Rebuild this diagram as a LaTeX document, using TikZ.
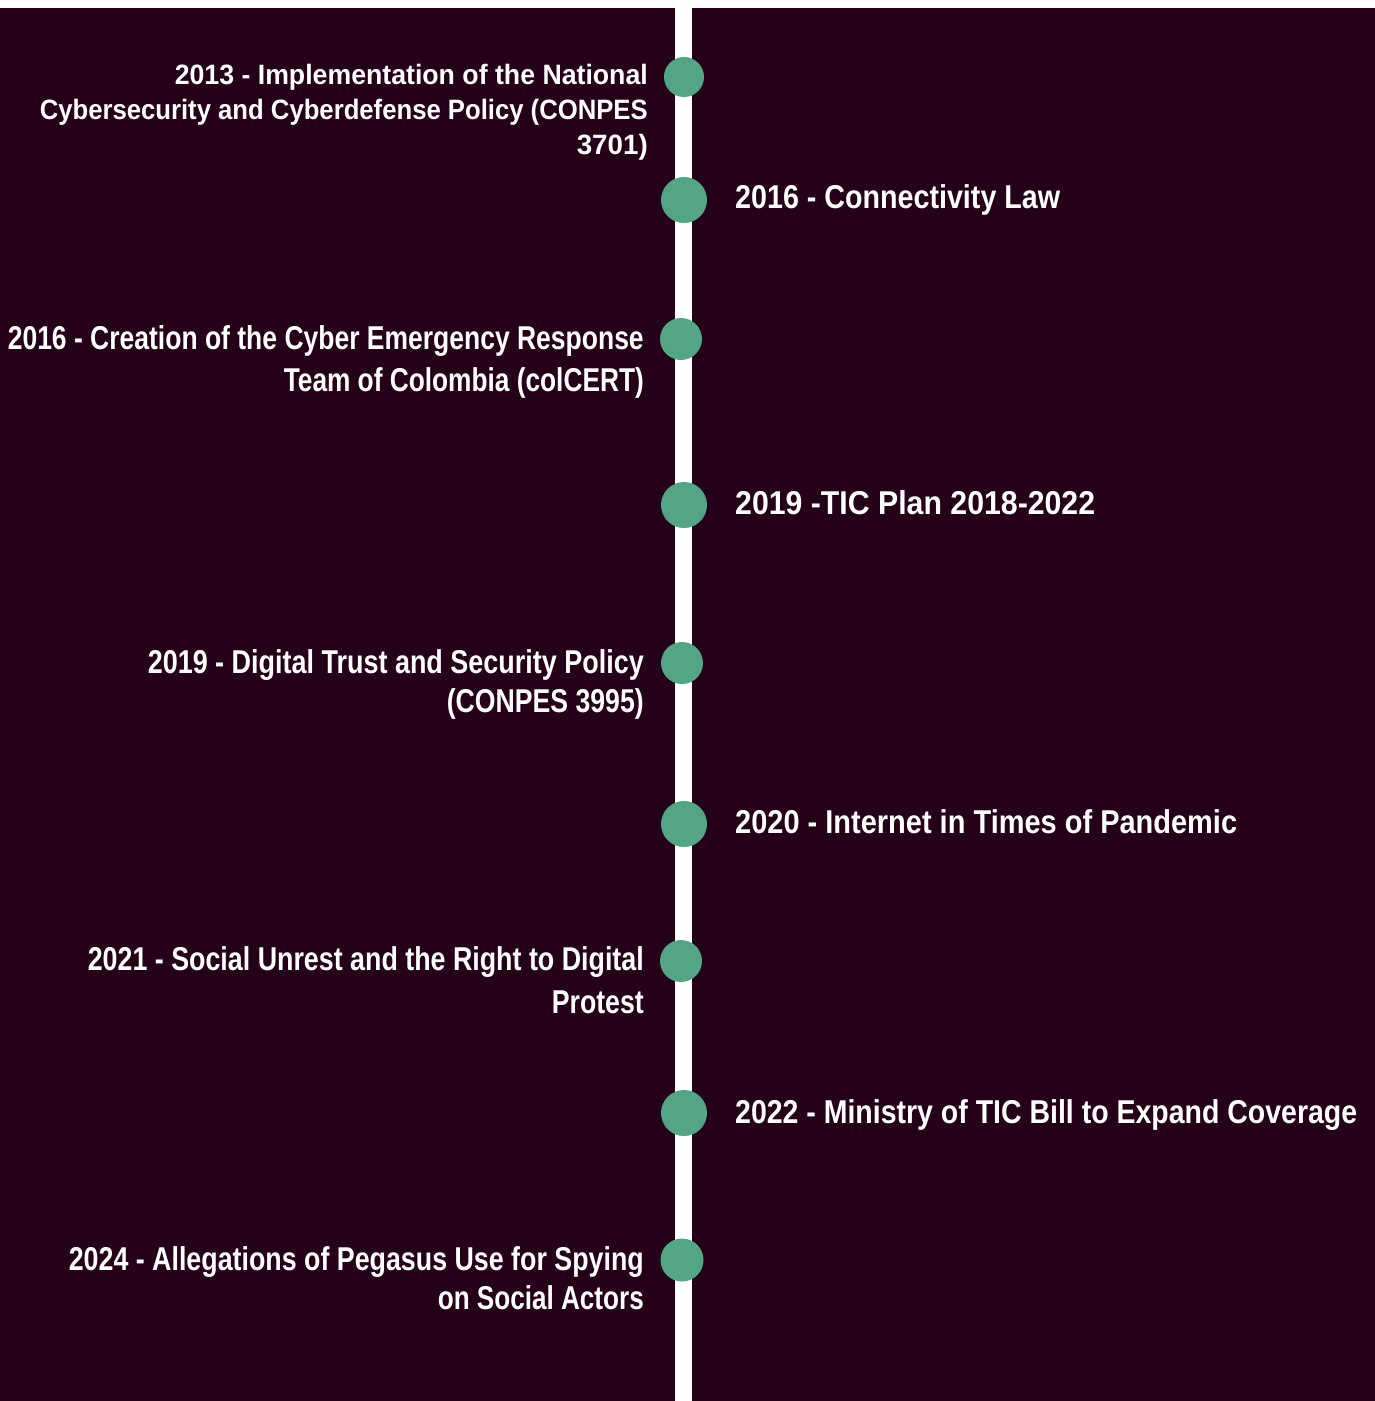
\documentclass[tikz,border=0pt]{standalone}
\usepackage{fontspec}
\usepackage{graphicx}
\setmainfont{Liberation Sans}
\definecolor{bgdark}{HTML}{240019}
\definecolor{dotgreen}{HTML}{53A685}
\newsavebox{\fitbox}
\newcommand{\fitw}[2]{\sbox{\fitbox}{#2}\pgfmathsetmacro{\fitr}{#1/\wd\fitbox}\scalebox{\fitr}[1]{\usebox{\fitbox}}}
\begin{document}
\begin{tikzpicture}[x=1pt,y=-1pt,
  dot/.style={circle,fill=dotgreen,draw=none,inner sep=0pt,minimum size=#1},
  lt/.style={anchor=base east,inner sep=0pt,text=white,font=\fontsize{33}{38}\selectfont\bfseries},
  ls/.style={anchor=base east,inner sep=0pt,text=white,font=\fontsize{28}{33}\selectfont\bfseries},
  rt/.style={anchor=base west,inner sep=0pt,text=white,font=\fontsize{33}{38}\selectfont\bfseries}]
\useasboundingbox (0,0) rectangle (1375,1401);
\fill[white] (0,0) rectangle (1375,1401);
\fill[bgdark] (0,8) rectangle (675,1401);
\fill[bgdark] (692,8) rectangle (1375,1401);
% dots
\node[dot=40pt] (d1) at (684,77) {};
\node[dot=46pt] (d2) at (684,200) {};
\node[dot=42pt] (d3) at (681,339) {};
\node[dot=46pt] (d4) at (684,505) {};
\node[dot=42pt] (d5) at (682,663) {};
\node[dot=46pt] (d6) at (684,824) {};
\node[dot=42pt] (d7) at (681,961) {};
\node[dot=46pt] (d8) at (684,1113) {};
\node[dot=43pt] (d9) at (682,1260) {};
% left texts
\node[ls] (t1a) at (648,84) {\fitw{473}{2013 - Implementation of the National}};
\node[ls] (t1b) at (648,119) {\fitw{608}{Cybersecurity and Cyberdefense Policy (CONPES}};
\node[ls] (t1c) at (648,154) {\fitw{71}{3701)}};
\node[lt] (t3a) at (644,349) {\fitw{636}{2016 - Creation of the Cyber Emergency Response}};
\node[lt] (t3b) at (644,391) {\fitw{360}{Team of Colombia (colCERT)}};
\node[lt] (t5a) at (644,673) {\fitw{496}{2019 - Digital Trust and Security Policy}};
\node[lt] (t5b) at (644,712) {\fitw{197}{(CONPES 3995)}};
\node[lt] (t7a) at (644,970) {\fitw{556}{2021 - Social Unrest and the Right to Digital}};
\node[lt] (t7b) at (644,1013) {\fitw{92}{Protest}};
\node[lt] (t9a) at (644,1270) {\fitw{575}{2024 - Allegations of Pegasus Use for Spying}};
\node[lt] (t9b) at (644,1309) {\fitw{206}{on Social Actors}};
% right texts
\node[rt] (t2) at (735,208) {\fitw{325}{2016 - Connectivity Law}};
\node[rt] (t4) at (735,514) {\fitw{360}{2019 -TIC Plan 2018-2022}};
\node[rt] (t6) at (735,833) {\fitw{502}{2020 - Internet in Times of Pandemic}};
\node[rt] (t8) at (735,1123) {\fitw{622}{2022 - Ministry of TIC Bill to Expand Coverage}};
\end{tikzpicture}
\end{document}
